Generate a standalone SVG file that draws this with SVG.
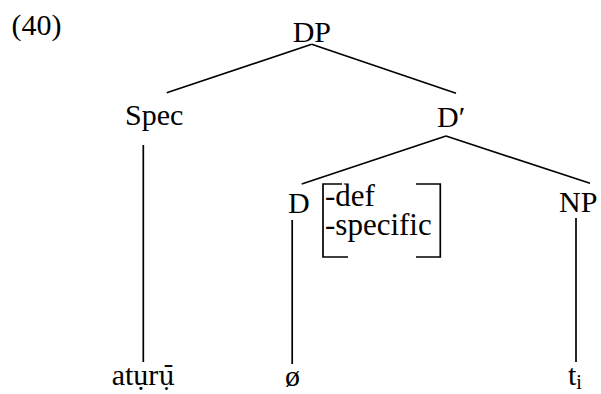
<svg xmlns="http://www.w3.org/2000/svg" width="601" height="394" viewBox="0 0 601 394">
  <style>
    .edge { stroke: #000; stroke-width: 1.7; fill: none; }
    .feat { font-size: 31px; }
  </style>
  <rect width="601" height="394" fill="#fff"/>
  <g font-family="Liberation Serif, Times New Roman, serif" font-size="30" fill="#000">
  <text x="11.5" y="35">(40)</text>
  <g id="connectors">
    <line class="edge" x1="311.7" y1="44.3" x2="166.7" y2="92.7"/>
    <line class="edge" x1="311.7" y1="44.3" x2="456" y2="93.3"/>
    <line class="edge" x1="446" y1="136" x2="301.7" y2="184"/>
    <line class="edge" x1="446" y1="136" x2="590" y2="183.3"/>
    <line class="edge" x1="143.3" y1="145" x2="143.3" y2="362"/>
    <line class="edge" x1="292.2" y1="220" x2="292.2" y2="364"/>
    <line class="edge" x1="576" y1="218" x2="576" y2="362"/>
  </g>
  <g id="DP"><text x="292.7" y="42.3">DP</text></g>
  <g id="Spec"><text x="125" y="125">Spec</text></g>
  <g id="Dbar"><text x="437" y="127.3">D′</text></g>
  <g id="D"><text x="288" y="213">D</text></g>
  <g id="features">
    <path class="edge" d="M342,184 H323 V257 H348"/>
    <path class="edge" d="M416,184 H440.3 V257 H416"/>
    <text class="feat" x="325" y="206">-def</text>
    <text class="feat" x="325" y="235">-specific</text>
  </g>
  <g id="NP"><text x="559" y="212.3">NP</text></g>
  <g id="aturu"><text x="111.7" y="385">at&#x1EE5;r<tspan font-family="DejaVu Serif, serif" font-size="26">&#x016B;&#x0323;</tspan></text></g>
  <g id="empty"><text x="285" y="386">ø</text></g>
  <g id="trace"><text x="568" y="385">t<tspan font-size="20" dy="4">i</tspan></text></g>
  </g>
</svg>
